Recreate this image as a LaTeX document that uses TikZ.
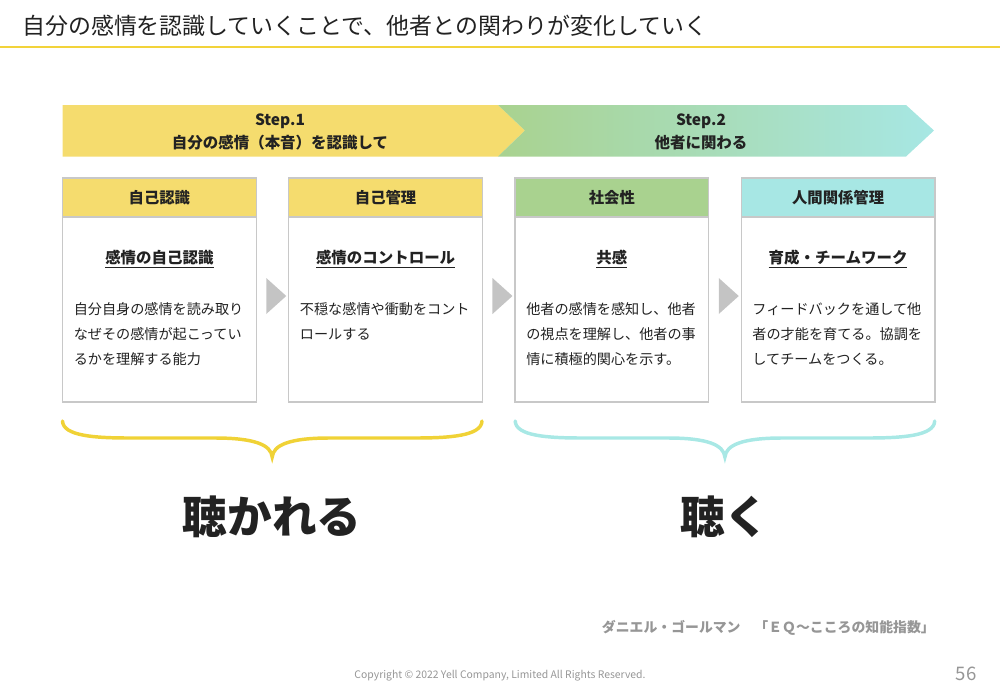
\documentclass[tikz,border=0pt]{standalone}
\usepackage{fontspec}
\setmainfont{Noto Sans CJK JP}
\usetikzlibrary{positioning,calc}
\definecolor{ruleyellow}{RGB}{242,211,58}
\definecolor{stepyellow}{RGB}{245,220,110}
\definecolor{stepgreen}{RGB}{169,210,143}
\definecolor{stepcyan}{RGB}{167,231,228}
\definecolor{braceyellow}{RGB}{240,210,54}
\definecolor{bracecyan}{RGB}{168,232,229}
\definecolor{boxgray}{RGB}{200,200,200}
\definecolor{arrowgray}{RGB}{196,196,196}
\definecolor{darktext}{RGB}{34,34,34}
\definecolor{citegray}{RGB}{150,150,150}

\begin{document}
\begin{tikzpicture}[x=0.75pt, y=-0.75pt,
  head/.style={rectangle, draw=boxgray, line width=1pt, minimum width=145.3pt, minimum height=29.25pt, inner sep=0pt, outer sep=0pt, text=darktext, font=\fontsize{11.5}{14}\selectfont\bfseries},
  card/.style={rectangle, draw=boxgray, line width=1pt, fill=white, minimum width=145.3pt, minimum height=138.75pt, inner sep=0pt, outer sep=0pt},
  sub/.style={inner sep=0pt, text=darktext, font=\fontsize{11.6}{14}\selectfont\bfseries},
  desc/.style={anchor=north west, align=left, inner sep=0pt, text=darktext, font=\fontsize{10.6}{18.75}\selectfont},
  steptext/.style={align=center, inner sep=0pt, text=darktext, font=\fontsize{11.6}{17.25}\selectfont\bfseries},
  ear/.style={line width=2.6pt, line cap=round},
  big/.style={inner sep=0pt, text=darktext, font=\fontsize{33.5}{40}\selectfont\bfseries},
]
  \useasboundingbox (0,0) rectangle (1000,693);

  % Title
  \node[anchor=west, inner sep=0pt, text=darktext, font=\fontsize{17.2}{20}\selectfont] (title) at (22,26) {自分の感情を認識していくことで、他者との関わりが変化していく};
  \draw[ruleyellow, line width=1.5pt] (0,47) -- (1000,47);

  % Step banner
  \fill[stepyellow] (62.5,105) -- (498,105) -- (525,130.5) -- (498,156.5) -- (62.5,156.5) -- cycle;
  \shade[left color=stepgreen, right color=stepcyan] (498,105) -- (906,105) -- (934,130.5) -- (906,156.5) -- (498,156.5) -- (525,130.5) -- cycle;
  \node[steptext] (step1) at (280,131.5) {Step.1\\自分の感情（本音）を認識して};
  \node[steptext] (step2) at (701,131.5) {Step.2\\他者に関わる};

  % Cards
  \node[head, fill=stepyellow] (aware) at (159.4,197.5) {自己認識};
  \node[card, below=0pt of aware] (awarecard) {};
  \node[head, fill=stepyellow] (manage) at (385.6,197.5) {自己管理};
  \node[card, below=0pt of manage] (managecard) {};
  \node[head, fill=stepgreen] (social) at (611.9,197.5) {社会性};
  \node[card, below=0pt of social] (socialcard) {};
  \node[head, fill=stepcyan] (relation) at (838.1,197.5) {人間関係管理};
  \node[card, below=0pt of relation] (relationcard) {};

  \node[sub] (awaresub) at (159.4,259) {\underline{感情の自己認識}};
  \node[sub] (managesub) at (385.6,259) {\underline{感情のコントロール}};
  \node[sub] (socialsub) at (611.9,259) {\underline{共感}};
  \node[sub] (relationsub) at (838.1,259) {\underline{育成・チームワーク}};

  \node[desc] (awaretext) at (73.5,302) {自分自身の感情を読み取り\\なぜその感情が起こってい\\るかを理解する能力};
  \node[desc] (managetext) at (299.7,302) {不穏な感情や衝動をコント\\ロールする};
  \node[desc] (socialtext) at (526,302) {他者の感情を感知し、他者\\の視点を理解し、他者の事\\情に積極的関心を示す。};
  \node[desc] (relationtext) at (752.2,302) {フィードバックを通して他\\者の才能を育てる。協調を\\してチームをつくる。};

  % Triangles between cards
  \fill[arrowgray] ($(awarecard.east)+(10,-31.5)$) -- ++(20,18) -- ++(-20,18) -- cycle;
  \fill[arrowgray] ($(managecard.east)+(10,-31.5)$) -- ++(20,18) -- ++(-20,18) -- cycle;
  \fill[arrowgray] ($(socialcard.east)+(10,-31.5)$) -- ++(20,18) -- ++(-20,18) -- cycle;

  % Braces
  \draw[ear, braceyellow] (62.5,421) .. controls (63,436) and (95,438) .. (130,438) -- (215,438) .. controls (255,438) and (271,445) .. (272.2,457) .. controls (273.4,445) and (289.4,438) .. (329.4,438) -- (414.4,438) .. controls (449.4,438) and (481.4,436) .. (482,421);
  \draw[ear, bracecyan] (515.2,421) .. controls (515.7,436) and (547.7,438) .. (582.7,438) -- (667.7,438) .. controls (707.7,438) and (723.7,445) .. (724.9,457) .. controls (726.1,445) and (742.1,438) .. (782.1,438) -- (867.1,438) .. controls (902.1,438) and (934.1,436) .. (934.7,421);

  \node[big] (heard) at (272.2,517) {聴かれる};
  \node[big] (listen) at (724.9,517) {聴く};

  % Footer
  \node[anchor=east, inner sep=0pt, text=citegray, font=\fontsize{10.4}{12}\selectfont\bfseries] (cite) at (935,628) {ダニエル・ゴールマン　「ＥＱ～こころの知能指数」};
  \node[inner sep=0pt, text=citegray, font=\fontsize{7.8}{9}\selectfont] (copy) at (500,676) {Copyright © 2022 Yell Company, Limited All Rights Reserved.};
  \node[inner sep=0pt, text=citegray, font=\fontsize{14}{16}\selectfont] (page) at (966,674) {56};
\end{tikzpicture}
\end{document}
